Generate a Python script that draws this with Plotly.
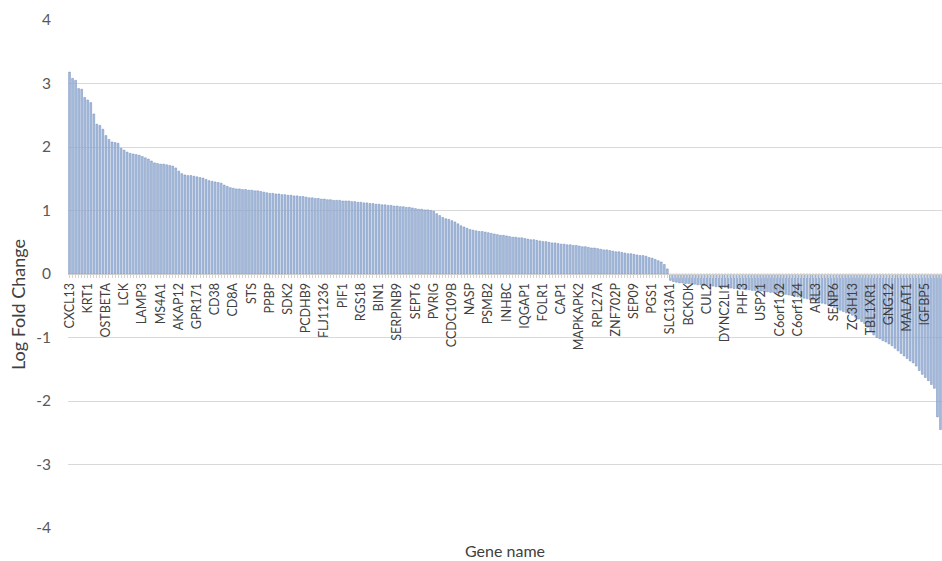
import plotly.graph_objects as go

# Log fold change per gene, sorted from most up- to most down-regulated
up_values = [
    3.18, 3.08, 3.05, 2.92, 2.91, 2.78,
    2.74, 2.70, 2.52, 2.36, 2.34, 2.28,
    2.18, 2.12, 2.08, 2.07, 2.06, 1.98,
    1.95, 1.92, 1.90, 1.89, 1.88, 1.87,
    1.85, 1.83, 1.81, 1.78, 1.75, 1.74,
    1.73, 1.73, 1.72, 1.71, 1.70, 1.67,
    1.62, 1.58, 1.56, 1.55, 1.55, 1.54,
    1.53, 1.52, 1.51, 1.49, 1.47, 1.46,
    1.45, 1.44, 1.43, 1.40, 1.38, 1.36,
    1.35, 1.34, 1.34, 1.33, 1.33, 1.32,
    1.32, 1.31, 1.31, 1.30, 1.29, 1.28,
    1.27, 1.27, 1.26, 1.26, 1.25, 1.25,
    1.24, 1.24, 1.23, 1.23, 1.22, 1.22,
    1.21, 1.20, 1.20, 1.19, 1.19, 1.18,
    1.18, 1.17, 1.17, 1.16, 1.16, 1.16,
    1.15, 1.15, 1.15, 1.14, 1.14, 1.13,
    1.13, 1.12, 1.12, 1.11, 1.11, 1.10,
    1.10, 1.09, 1.09, 1.08, 1.08, 1.07,
    1.07, 1.06, 1.06, 1.05, 1.05, 1.04,
    1.03, 1.02, 1.02, 1.01, 1.01, 1.00,
    0.99, 0.95, 0.92, 0.89, 0.87, 0.86,
    0.84, 0.82, 0.79, 0.76, 0.74, 0.72,
    0.70, 0.69, 0.68, 0.67, 0.67, 0.66,
    0.65, 0.64, 0.63, 0.62, 0.61, 0.61,
    0.60, 0.59, 0.58, 0.58, 0.57, 0.57,
    0.56, 0.55, 0.54, 0.54, 0.53, 0.52,
    0.51, 0.51, 0.50, 0.49, 0.49, 0.48,
    0.47, 0.47, 0.46, 0.46, 0.45, 0.45,
    0.44, 0.43, 0.43, 0.42, 0.41, 0.41,
    0.40, 0.39, 0.38, 0.38, 0.37, 0.36,
    0.35, 0.35, 0.34, 0.33, 0.32, 0.32,
    0.31, 0.30, 0.29, 0.29, 0.28, 0.26,
    0.25, 0.23, 0.21, 0.19, 0.15, 0.08,
]

down_values = [
    -0.10, -0.12, -0.13, -0.14, -0.14, -0.15,
    -0.15, -0.16, -0.16, -0.17, -0.17, -0.18,
    -0.18, -0.19, -0.19, -0.20, -0.20, -0.21,
    -0.21, -0.22, -0.22, -0.23, -0.23, -0.24,
    -0.24, -0.25, -0.25, -0.26, -0.26, -0.27,
    -0.27, -0.28, -0.28, -0.29, -0.29, -0.30,
    -0.30, -0.31, -0.32, -0.33, -0.34, -0.35,
    -0.36, -0.37, -0.38, -0.39, -0.40, -0.41,
    -0.43, -0.44, -0.46, -0.47, -0.49, -0.51,
    -0.53, -0.55, -0.57, -0.59, -0.61, -0.63,
    -0.65, -0.68, -0.71, -0.75, -0.78, -0.84,
    -0.90, -0.96, -1.00, -1.02, -1.05, -1.07,
    -1.10, -1.13, -1.17, -1.21, -1.25, -1.29,
    -1.33, -1.37, -1.40, -1.45, -1.52, -1.58,
    -1.63, -1.68, -1.74, -1.80, -2.25, -2.45,
]

# Every sixth gene along the axis carries a name label
labelled_genes = [
    "CXCL13", "KRT1", "OSTBETA", "LCK", "LAMP3", "MS4A1", "AKAP12", "GPR171",
    "CD38", "CD8A", "STS", "PPBP", "SDK2", "PCDHB9", "FLJ11236", "PIF1",
    "RGS18", "BIN1", "SERPINB9", "SEPT6", "PVRIG", "CCDC109B", "NASP", "PSMB2",
    "INHBC", "IQGAP1", "FOLR1", "CAP1", "MAPKAPK2", "RPL27A", "ZNF702P", "SEP09",
    "PGS1", "SLC13A1", "BCKDK", "CUL2", "DYNC2LI1", "PHF3", "USP21", "C6orf162",
    "C6orf124", "ARL3", "SENP6", "ZC3H13", "TBL1XR1", "GNG12", "MALAT1", "IGFBP5",
]
label_step = 6

# Value axis ticks, written with a plain hyphen for negatives
y_ticks = [-4, -3, -2, -1, 0, 1, 2, 3, 4]
y_tick_text = ["-4", "-3", "-2", "-1", "0", "1", "2", "3", "4"]

values = up_values + down_values
positions = list(range(len(values)))
tick_text = [""] * len(values)
for k, name in enumerate(labelled_genes):
    tick_text[k * label_step] = name

fig = go.Figure(
    go.Bar(
        x=positions,
        y=values,
        marker=dict(color="#a9bedd", line=dict(color="#6f8bbb", width=0.5)),
        hoverinfo="y",
    )
)

fig.update_layout(
    width=942,
    height=561,
    margin=dict(l=68, r=0, t=20, b=33),
    paper_bgcolor="white",
    plot_bgcolor="white",
    bargap=0.4,
    showlegend=False,
    font=dict(family="Lato, Open Sans, sans-serif", color="#404040"),
    xaxis=dict(
        range=[-0.5, len(values) - 0.5],
        tickmode="array",
        tickvals=positions,
        ticktext=tick_text,
        tickangle=-90,
        ticks="outside",
        ticklen=3,
        tickcolor="#d4d4d4",
        tickwidth=1,
        tickfont=dict(size=12.5, color="#404040"),
        showline=True,
        linecolor="#d0d0d0",
        linewidth=1,
        showgrid=False,
        zeroline=False,
        anchor="free",
        position=0.5,
        automargin=False,
        layer="above traces",
    ),
    yaxis=dict(
        range=[-4, 4],
        tickmode="array",
        tickvals=y_ticks,
        ticktext=y_tick_text,
        tickfont=dict(size=15.5, color="#595959"),
        showgrid=True,
        gridcolor="#d9d9d9",
        gridwidth=1,
        zeroline=False,
        showline=False,
        ticks="",
        ticklabelstandoff=16,
        automargin=False,
    ),
    annotations=[
        dict(
            text="Gene name",
            xref="paper",
            yref="paper",
            x=0.5,
            y=0,
            yshift=-22,
            yanchor="middle",
            showarrow=False,
            font=dict(size=16, color="#404040"),
        ),
        dict(
            text="Log Fold Change",
            xref="paper",
            yref="paper",
            x=0,
            xshift=-50,
            y=0.439,
            xanchor="center",
            yanchor="middle",
            textangle=-90,
            showarrow=False,
            font=dict(size=18, color="#404040"),
        ),
    ],
)

fig.write_html("out.html")
